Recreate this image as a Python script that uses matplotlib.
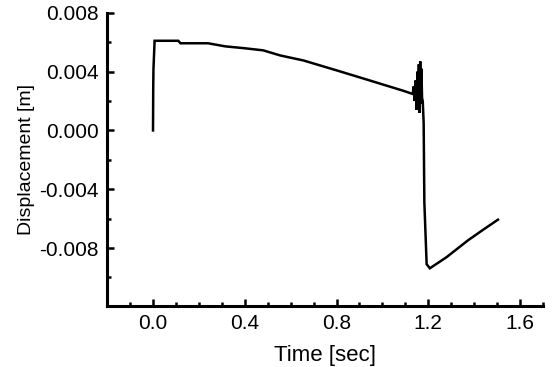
import numpy as np
import matplotlib
matplotlib.use("Agg")
import matplotlib.pyplot as plt
from matplotlib.ticker import MultipleLocator, FormatStrFormatter

plt.rcParams['font.family'] = ['Liberation Sans', 'DejaVu Sans']

# 位移时程 (s, m)
time_s = [0.000, 0.001, 0.002, 0.007, 0.110, 0.120, 0.240, 0.315, 0.400, 0.480,
          0.555, 0.656, 0.804, 0.949, 1.093, 1.132, 1.137, 1.141, 1.145, 1.149,
          1.153, 1.156, 1.159, 1.162, 1.165, 1.167, 1.170, 1.173, 1.176, 1.180,
          1.183, 1.193, 1.207, 1.280, 1.373, 1.440, 1.504]
disp_m = [0.0000, 0.0030, 0.0042, 0.0061, 0.0061, 0.00593, 0.00593, 0.00572, 0.00559, 0.00545,
          0.0051, 0.00476, 0.00407, 0.00338, 0.00269, 0.00248, 0.0030, 0.0020, 0.0034, 0.0014,
          0.0040, 0.0016, 0.0045, 0.0012, 0.0047, 0.0018, 0.0042, 0.0022, 0.0020, 0.0005,
          -0.0049, -0.0091, -0.00938, -0.00862, -0.00748, -0.00675, -0.00607]

fig = plt.figure(figsize=(5.58, 3.67), dpi=100)
ax = fig.add_axes([0.192, 0.166, 0.781, 0.799])

ax.plot(time_s, disp_m, color='black', lw=1.8, solid_joinstyle='miter')

# 下限略高于 -0.012，底部不出刻度标签
ax.set_xlim(-0.2, 1.7)
ax.set_ylim(-0.01195, 0.008)
ax.xaxis.set_major_locator(MultipleLocator(0.4))
ax.xaxis.set_minor_locator(MultipleLocator(0.1))
ax.yaxis.set_major_locator(MultipleLocator(0.004))
ax.yaxis.set_minor_locator(MultipleLocator(0.002))
ax.xaxis.set_major_formatter(FormatStrFormatter('%.1f'))
ax.yaxis.set_major_formatter(FormatStrFormatter('%.3f'))

for side in ('top', 'right'):
    ax.spines[side].set_visible(False)
for side in ('left', 'bottom'):
    ax.spines[side].set_linewidth(2.2)

ax.tick_params(which='major', direction='in', length=5, width=1.8, labelsize=15, pad=6)
ax.tick_params(which='minor', direction='in', length=3, width=1.8)

ax.set_xlabel('Time [sec]', fontsize=16, labelpad=8)
ax.set_ylabel('Displacement [m]', fontsize=14, labelpad=3)

fig.savefig('out.png', dpi=100)
